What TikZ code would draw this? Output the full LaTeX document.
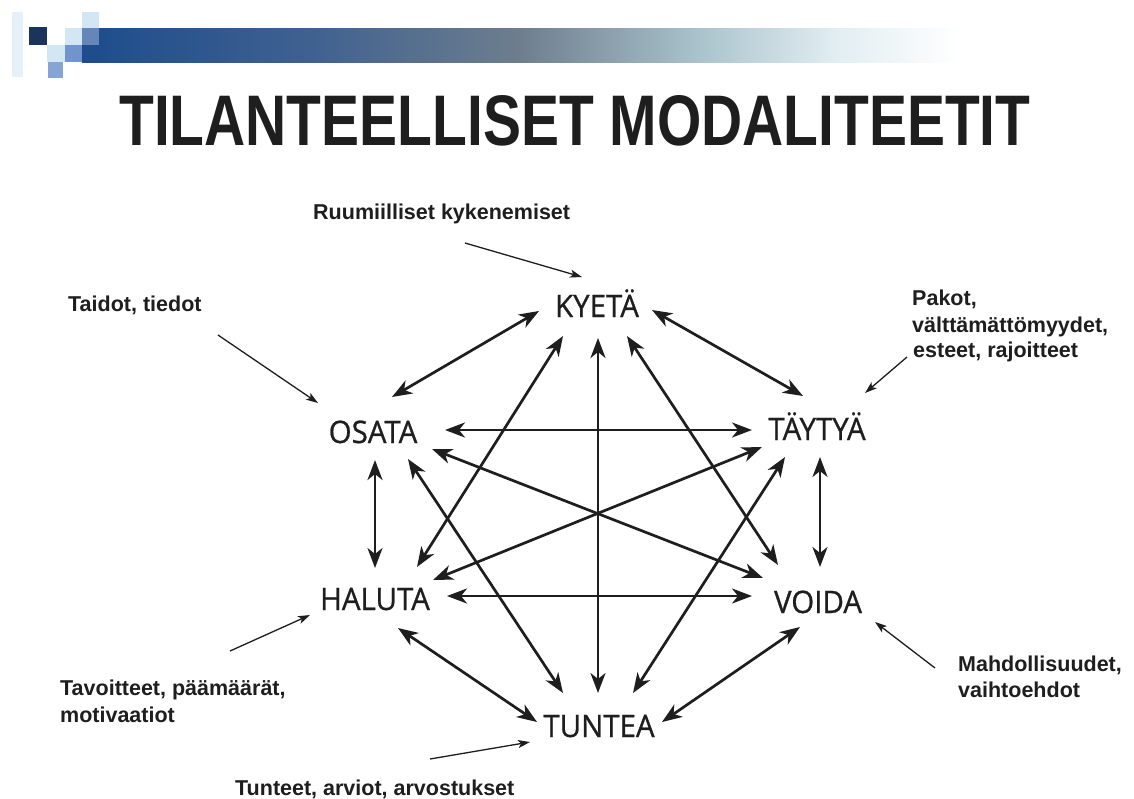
\documentclass[tikz,border=0pt]{standalone}
\usepackage{fontspec}
\usepackage{graphicx}
\setmainfont{Liberation Sans}
\newfontfamily\modfont[FakeStretch=0.95,FakeBold=0.8]{Open Sans}
\usetikzlibrary{arrows.meta}
\definecolor{ink}{HTML}{1E1E1E}
\definecolor{navy}{HTML}{1B3459}
\definecolor{pale}{HTML}{D3E6F4}
\definecolor{paler}{HTML}{E6F0F8}
\definecolor{midblue}{HTML}{6F95CC}
\definecolor{barA}{HTML}{1D4C8C}
\definecolor{barB}{HTML}{3F6190}
\definecolor{barC}{HTML}{6E7E8E}
\definecolor{barD}{HTML}{A9C2CB}
\definecolor{barE}{HTML}{E2EEF2}
\pgfdeclarehorizontalshading{barshade}{100bp}{color(0bp)=(barA); color(25bp)=(barA); color(38bp)=(barB); color(50bp)=(barC); color(60bp)=(barD); color(68bp)=(barE); color(75bp)=(white); color(100bp)=(white)}
\begin{document}
\begin{tikzpicture}[x=1pt,y=-1pt,
  modal/.style={font=\modfont\fontsize{31}{36}\selectfont, inner sep=0pt, anchor=base, text=ink},
  lab/.style={font=\bfseries\fontsize{21.5}{26}\selectfont, inner sep=0pt, anchor=base west, text=ink},
  dbl/.style={line width=2.7pt, draw=ink, {Stealth[length=20pt,width=15pt,inset=6pt]}-{Stealth[length=20pt,width=15pt,inset=6pt]}},
  thinarrow/.style={line width=1.3pt, draw=ink, -{Stealth[length=12pt,width=8pt,inset=3pt]}}]
\fill[white] (0,0) rectangle (1134,798);
\useasboundingbox (0,0) rectangle (1134,798);
% banner
\fill[paler] (12,12) rectangle (23,77);
\shade[shading=barshade] (82,28) rectangle (960,62);
\fill[navy] (29,27) rectangle (47,45);
\fill[pale] (47,45) rectangle (65,62);
\fill[midblue!85] (48,62) rectangle (63,78);
\fill[pale] (65,28) rectangle (82,45);
\fill[midblue] (65,45) rectangle (82,62);
\fill[pale] (82,12) rectangle (99,28);
\fill[midblue!90!black] (82,28) rectangle (99,45);
% title
\node[anchor=base west, inner sep=0pt, text=ink] (title) at (119,145)
  {\resizebox{911pt}{50pt}{\bfseries TILANTEELLISET MODALITEETIT}};
% modality nodes
\node[modal] (K) at (597,317) {KYETÄ};
\node[modal] (O) at (373,443) {OSATA};
\node[modal] (Ty) at (817,440) {TÄYTYÄ};
\node[modal] (H) at (375,610) {HALUTA};
\node[modal] (V) at (818,613) {VOIDA};
\node[modal] (U) at (599,737) {TUNTEA};
% labels
\node[lab] (R) at (313,219) {Ruumiilliset kykenemiset};
\node[lab] (Ta) at (68,311) {Taidot, tiedot};
\node[lab] (P1) at (912,305) {Pakot,};
\node[lab] (P2) at (912,332) {välttämättömyydet,};
\node[lab] (P3) at (913,357) {esteet, rajoitteet};
\node[lab] (Tv1) at (60,695) {Tavoitteet, päämäärät,};
\node[lab] (Tv2) at (60,722) {motivaatiot};
\node[lab] (M1) at (958,671) {Mahdollisuudet,};
\node[lab] (M2) at (958,697) {vaihtoehdot};
\node[lab] (Tu) at (235,795) {Tunteet, arviot, arvostukset};
% double arrows
\draw[dbl] ([shift={(-58,-6)}]K.base) -- ([shift={(19,-46)}]O.base);
\draw[dbl] ([shift={(55,-7)}]K.base) -- ([shift={(-14,-44)}]Ty.base);
\draw[dbl] ([shift={(1,21)}]K.base) -- ([shift={(-1,-44)}]U.base);
\draw[dbl] ([shift={(-34,19)}]K.base) -- ([shift={(42,-43)}]H.base);
\draw[dbl] ([shift={(30,19)}]K.base) -- ([shift={(-40,-48)}]V.base);
\draw[dbl] ([shift={(72,-13)}]O.base) -- ([shift={(-65,-10)}]Ty.base);
\draw[dbl] ([shift={(2,17)}]O.base) -- ([shift={(0,-42)}]H.base);
\draw[dbl] ([shift={(59,6)}]O.base) -- ([shift={(-55,-35)}]V.base);
\draw[dbl] ([shift={(35,16)}]O.base) -- ([shift={(-36,-44)}]U.base);
\draw[dbl] ([shift={(-55,7)}]Ty.base) -- ([shift={(58,-30)}]H.base);
\draw[dbl] ([shift={(3,17)}]Ty.base) -- ([shift={(2,-46)}]V.base);
\draw[dbl] ([shift={(-32,17)}]Ty.base) -- ([shift={(34,-44)}]U.base);
\draw[dbl] ([shift={(72,-14)}]H.base) -- ([shift={(-66,-17)}]V.base);
\draw[dbl] ([shift={(23,18)}]H.base) -- ([shift={(-62,-15)}]U.base);
\draw[dbl] ([shift={(-18,14)}]V.base) -- ([shift={(63,-15)}]U.base);
% label arrows
\draw[thinarrow] ([shift={(152,24)}]R.base west) -- ([shift={(-15,-40)}]K.base);
\draw[thinarrow] ([shift={(150,24)}]Ta.base west) -- ([shift={(-55,-40)}]O.base);
\draw[thinarrow] ([shift={(-6,0)}]P3.base west) -- ([shift={(48,-47)}]Ty.base);
\draw[thinarrow] ([shift={(170,-44)}]Tv1.base west) -- ([shift={(-65,5)}]H.base);
\draw[thinarrow] ([shift={(-23,-3)}]M1.base west) -- ([shift={(57,9)}]V.base);
\draw[thinarrow] ([shift={(195,-36)}]Tu.base west) -- ([shift={(-69,5)}]U.base);
\end{tikzpicture}
\end{document}
